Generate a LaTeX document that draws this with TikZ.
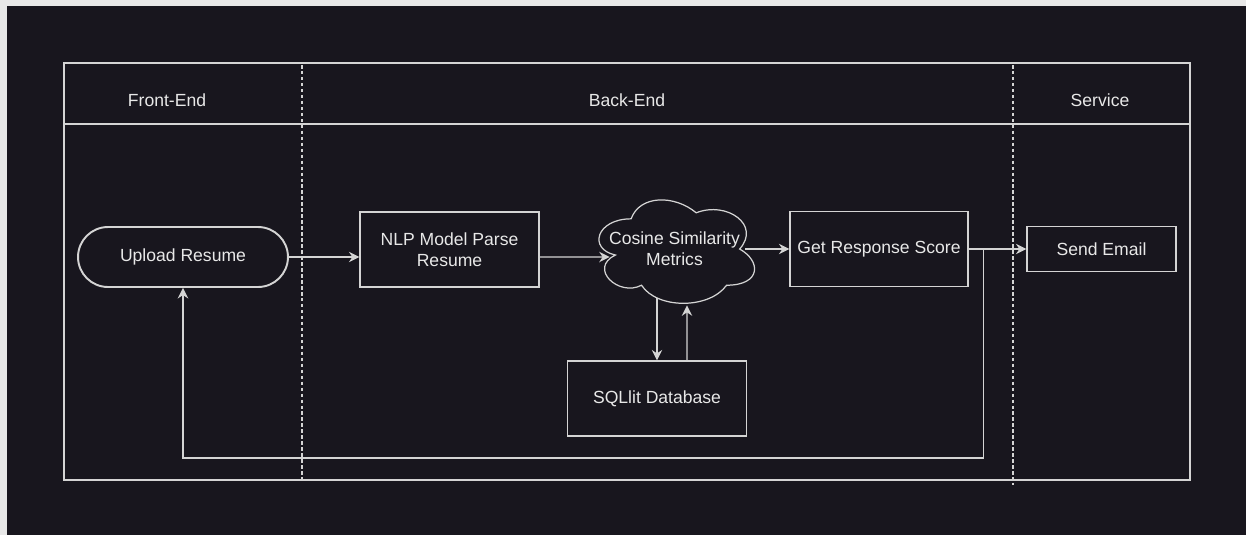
\documentclass[tikz,border=0pt]{standalone}
\usepackage{fontspec}
\setmainfont{Liberation Sans}
\usetikzlibrary{arrows.meta,calc}
\definecolor{bgdark}{HTML}{18161E}
\definecolor{frame}{HTML}{E8E8E8}
\definecolor{ln}{HTML}{D4D4D4}
\definecolor{txt}{HTML}{E8E8E8}
\tikzset{
  box/.style={draw=ln, line width=0.7pt, text=txt, align=center, inner sep=0pt, font=\fontsize{10}{12}\selectfont},
  pill/.style={box, rounded corners=0.6cm, line width=1.1pt},
  lbl/.style={text=txt, font=\fontsize{10}{12}\selectfont},
  arr/.style={draw=ln, line width=0.7pt, -{Stealth[length=6pt,width=6pt,inset=2pt]}},
  sep/.style={draw=ln, line width=0.8pt, dash pattern=on 2pt off 1.4pt},
  lane/.style={draw=ln, line width=1.4pt},
}
\begin{document}
\begin{tikzpicture}[x=0.02cm,y=-0.02cm]
\useasboundingbox (0,0) rectangle (1246,535);
\fill[frame] (0,0) rectangle (1246,535);
\fill[bgdark] (7,6) rectangle (1246,535);
% lanes
\draw[lane] (64,63) rectangle (1190,480);
\draw[lane] (64,124) -- (1190,124);
\draw[sep] (302,65) -- (302,483);
\draw[sep] (1013,65) -- (1013,485);
\node[lbl] (hfe) at (167,100) {Front-End};
\node[lbl] (hbe) at (627,100) {Back-End};
\node[lbl] (hsv) at (1100,100) {Service};
% nodes
\node[pill, minimum width=4.2cm, minimum height=1.2cm] (up) at (183,257) {Upload Resume};
\node[box, minimum width=3.58cm, minimum height=1.5cm] (nlp) at (449.5,249.5) {NLP Model Parse\\Resume};
\node[lbl, align=center, minimum width=3.46cm, minimum height=2.4cm, inner sep=0pt] (cl) at (674.5,249) {Cosine Similarity\\Metrics};
\draw[ln, line width=0.7pt]
  let \p1=(cl.north west), \p2=(cl.south east), \n1={\x2-\x1}, \n2={\y2-\y1} in
  ($(\x1,\y1)+(0.25*\n1,0.25*\n2)$)
  .. controls ($(\x1,\y1)+(0.05*\n1,0.25*\n2)$) and ($(\x1,\y1)+(0*\n1,0.5*\n2)$) .. ($(\x1,\y1)+(0.16*\n1,0.55*\n2)$)
  .. controls ($(\x1,\y1)+(0*\n1,0.66*\n2)$) and ($(\x1,\y1)+(0.18*\n1,0.9*\n2)$) .. ($(\x1,\y1)+(0.31*\n1,0.8*\n2)$)
  .. controls ($(\x1,\y1)+(0.4*\n1,1*\n2)$) and ($(\x1,\y1)+(0.7*\n1,1*\n2)$) .. ($(\x1,\y1)+(0.8*\n1,0.8*\n2)$)
  .. controls ($(\x1,\y1)+(1*\n1,0.8*\n2)$) and ($(\x1,\y1)+(1*\n1,0.6*\n2)$) .. ($(\x1,\y1)+(0.875*\n1,0.5*\n2)$)
  .. controls ($(\x1,\y1)+(1*\n1,0.3*\n2)$) and ($(\x1,\y1)+(0.8*\n1,0.1*\n2)$) .. ($(\x1,\y1)+(0.625*\n1,0.2*\n2)$)
  .. controls ($(\x1,\y1)+(0.5*\n1,0.05*\n2)$) and ($(\x1,\y1)+(0.3*\n1,0.05*\n2)$) .. ($(\x1,\y1)+(0.25*\n1,0.25*\n2)$)
  -- cycle;
\node[box, minimum width=3.56cm, minimum height=1.5cm] (get) at (879,249) {Get Response Score};
\node[box, minimum width=2.98cm, minimum height=0.9cm] (send) at (1101.5,249) {Send Email};
\node[box, minimum width=3.58cm, minimum height=1.5cm] (db) at (657,398.5) {SQLlit Database};
% connectors
\draw[arr] (up.east) -- (nlp.west |- up.east);
\draw[arr] ($(nlp.east)+(0,7.5)$) -- ($(cl.west)+(22,8)$);
\draw[arr] ($(cl.east)+(-16,0)$) -- (get.west);
\draw[arr] (get.east) -- (send.west);
\draw[arr] ($(cl.south)+(-17.5,-11)$) -- (db.north);
\draw[arr] ($(db.north)+(30,0)$) -- ($(cl.south)+(12.5,-4)$);
\coordinate (fb) at ($(get.east)+(15,0)$);
\draw[arr] (fb) -- ++(0,209) -| (up.south);
\end{tikzpicture}
\end{document}
